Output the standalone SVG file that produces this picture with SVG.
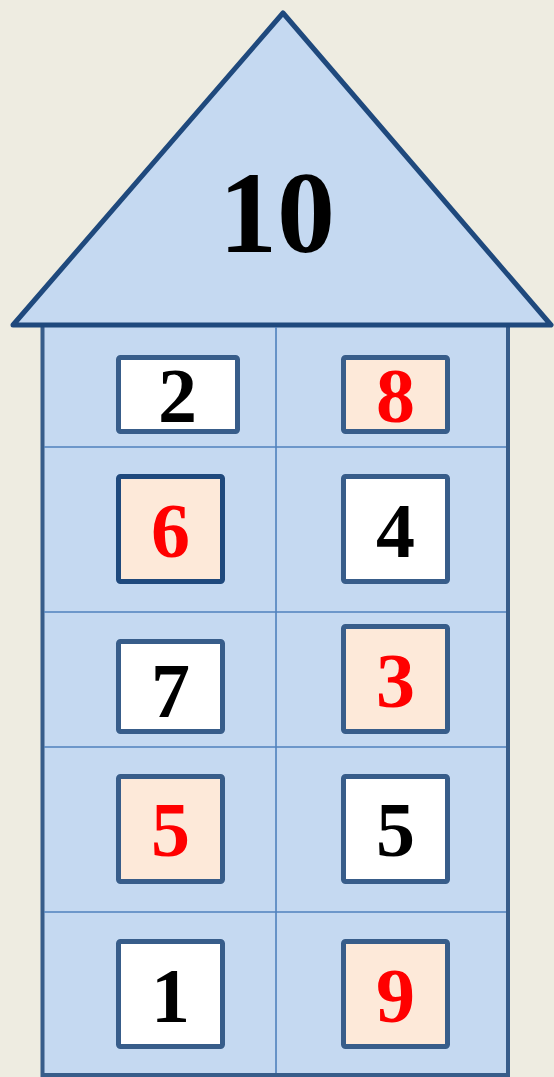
<svg xmlns="http://www.w3.org/2000/svg" width="554" height="1077" viewBox="0 0 554 1077">
<style>
.bg{fill:#eeece1}
.body{fill:#c5d9f1;stroke:#385d8a;stroke-width:4}
.roof{fill:#c5d9f1;stroke:#1f497d;stroke-width:5;stroke-linejoin:round}
.grid{stroke:#4f81bd;stroke-width:1.6;fill:none}
.box{stroke:#385d8a;stroke-width:5}
.w{fill:#ffffff}
.o{fill:#fde9d9}
.num{font-family:"Liberation Serif","Times New Roman",serif;font-weight:bold;font-size:78px;text-anchor:middle}
.k{fill:#000000}
.r{fill:#ff0000}
</style>
<rect class="bg" x="0" y="0" width="554" height="1077"/>
<g id="house">
<rect class="body" x="42.5" y="325" width="465.5" height="750"/>
<polygon class="roof" points="13,325 283,13 551,325"/>
<text class="num k" x="277" y="252" style="font-size:116px">10</text>
</g>
<g id="grid">
<line class="grid" x1="44" y1="447" x2="506" y2="447"/>
<line class="grid" x1="44" y1="612" x2="506" y2="612"/>
<line class="grid" x1="44" y1="747" x2="506" y2="747"/>
<line class="grid" x1="44" y1="912" x2="506" y2="912"/>
<line class="grid" x1="276" y1="327" x2="276" y2="1073"/>
</g>
<g id="n2"><rect class="box w" x="118.5" y="357.5" width="119" height="74" rx="2"/><text class="num k" x="177.5" y="422">2</text></g>
<g id="n8"><rect class="box o" x="343.5" y="357.5" width="104" height="74" rx="2"/><text class="num r" x="395.5" y="422">8</text></g>
<g id="n6"><rect class="box o" x="118.5" y="476.5" width="104" height="105" rx="2" style="stroke:#1f497d"/><text class="num r" x="170.5" y="557">6</text></g>
<g id="n4"><rect class="box w" x="343.5" y="476.5" width="104" height="105" rx="2"/><text class="num k" x="395.5" y="557">4</text></g>
<g id="n7"><rect class="box w" x="118.5" y="641.5" width="104" height="90" rx="2"/><text class="num k" x="170.5" y="717">7</text></g>
<g id="n3"><rect class="box o" x="343.5" y="626.5" width="104" height="105" rx="2"/><text class="num r" x="395.5" y="707">3</text></g>
<g id="n5a"><rect class="box o" x="118.5" y="776.5" width="104" height="105" rx="2"/><text class="num r" x="170.5" y="856">5</text></g>
<g id="n5b"><rect class="box w" x="343.5" y="776.5" width="104" height="105" rx="2"/><text class="num k" x="395.5" y="856">5</text></g>
<g id="n1"><rect class="box w" x="118.5" y="941.5" width="104" height="105" rx="2"/><text class="num k" x="170.5" y="1022">1</text></g>
<g id="n9"><rect class="box o" x="343.5" y="941.5" width="104" height="105" rx="2"/><text class="num r" x="395.5" y="1022">9</text></g>
</svg>
